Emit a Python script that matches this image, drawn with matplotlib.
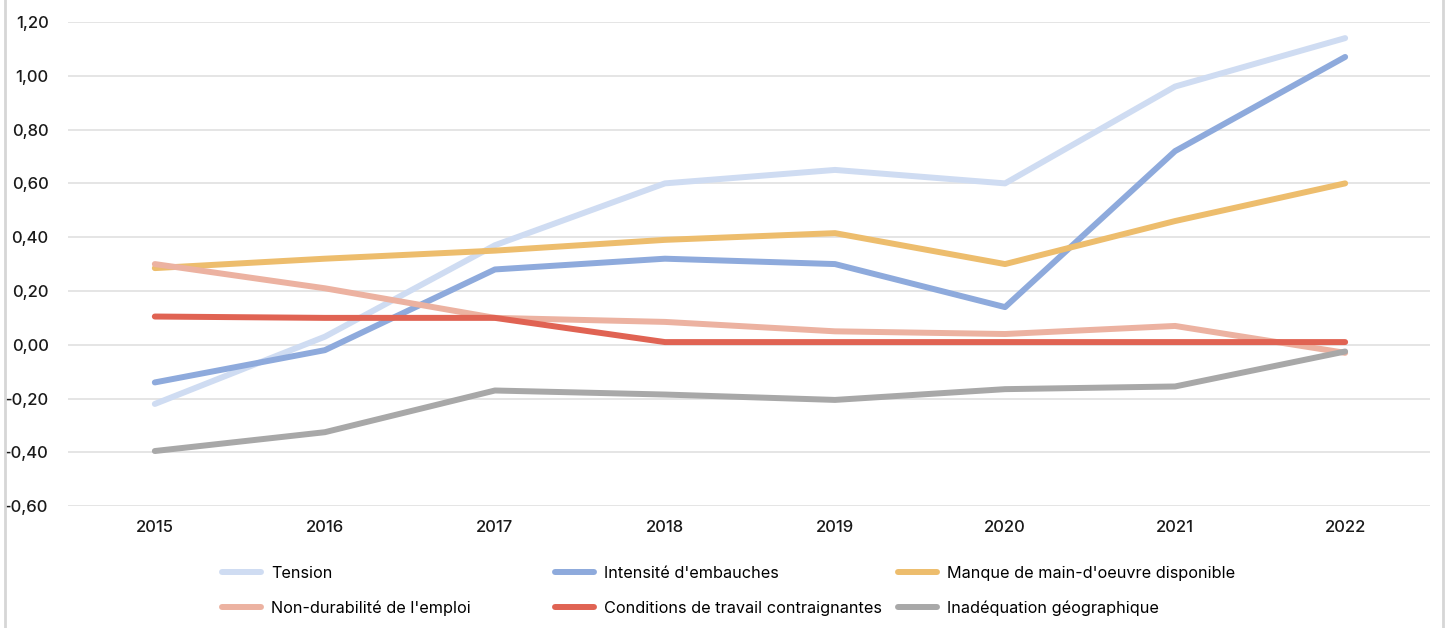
from __future__ import annotations

import matplotlib

matplotlib.use("Agg")
import matplotlib.pyplot as plt
from matplotlib.lines import Line2D
from matplotlib.ticker import FuncFormatter

plt.rcParams["font.family"] = ["Inter", "DejaVu Sans"]

years = [2015, 2016, 2017, 2018, 2019, 2020, 2021, 2022]

tension = [-0.22, 0.03, 0.37, 0.60, 0.65, 0.60, 0.96, 1.14]
intensite_embauches = [-0.14, -0.02, 0.28, 0.32, 0.30, 0.14, 0.72, 1.07]
manque_main_oeuvre = [0.285, 0.32, 0.35, 0.39, 0.415, 0.30, 0.46, 0.60]
non_durabilite = [0.30, 0.21, 0.10, 0.085, 0.05, 0.04, 0.07, -0.03]
conditions_travail = [0.105, 0.10, 0.10, 0.01, 0.01, 0.01, 0.01, 0.01]
inadequation_geo = [-0.395, -0.325, -0.17, -0.185, -0.205, -0.165, -0.155, -0.025]

series = [
    ("Tension", tension, "#cfdcf2"),
    ("Intensité d'embauches", intensite_embauches, "#8eaadc"),
    ("Manque de main-d'oeuvre disponible", manque_main_oeuvre, "#edbd6d"),
    ("Non-durabilité de l'emploi", non_durabilite, "#ecb2a1"),
    ("Conditions de travail contraignantes", conditions_travail, "#e06353"),
    ("Inadéquation géographique", inadequation_geo, "#a8a8a8"),
]

fig = plt.figure(figsize=(14.49, 6.28), dpi=100)
ax = fig.add_axes([0.047, 0.194, 0.94, 0.771])

handles = {}
for label, values, color in series:
    (line,) = ax.plot(
        years, values, color=color, linewidth=4.3, label=label,
        solid_capstyle="round", solid_joinstyle="round",
    )
    handles[label] = line

ax.set_xlim(2014.49, 2022.5)
ax.set_ylim(-0.6, 1.2)
ax.set_yticks([-0.6, -0.4, -0.2, 0.0, 0.2, 0.4, 0.6, 0.8, 1.0, 1.2])
ax.set_xticks(years)
ax.yaxis.set_major_formatter(FuncFormatter(lambda v, _: f"{v:.2f}".replace(".", ",").replace("-0,00", "0,00")))
ax.grid(axis="y", color="#e3e3e3", linewidth=1.3)
ax.set_axisbelow(True)
for spine in ax.spines.values():
    spine.set_visible(False)
ax.tick_params(axis="both", length=0, labelsize=12, colors="#1a1a1a")
ax.tick_params(axis="y", pad=14)
ax.tick_params(axis="x", pad=10)
for lbl in ax.get_xticklabels() + ax.get_yticklabels():
    lbl.set_fontweight("medium")

# figure border on both sides
for xpos in (5 / 1449, 1443 / 1449):
    fig.add_artist(Line2D([xpos, xpos], [0, 1], transform=fig.transFigure, color="#d6d6d6", linewidth=2))

# legend laid out as three fixed columns, like the original
legend_columns = [
    (222, ["Tension", "Non-durabilité de l'emploi"]),
    (555, ["Intensité d'embauches", "Conditions de travail contraignantes"]),
    (898, ["Manque de main-d'oeuvre disponible", "Inadéquation géographique"]),
]
for x_px, labels in legend_columns:
    fig.legend(
        [handles[k] for k in labels], labels,
        loc="upper left", bbox_to_anchor=(x_px / 1449, 1 - 566 / 628),
        frameon=False, borderpad=0, borderaxespad=0,
        handlelength=2.4, handletextpad=0.6, labelspacing=1.2,
        prop={"family": ["Inter", "DejaVu Sans"], "size": 11.7},
    )

fig.savefig("out.png", dpi=100)
